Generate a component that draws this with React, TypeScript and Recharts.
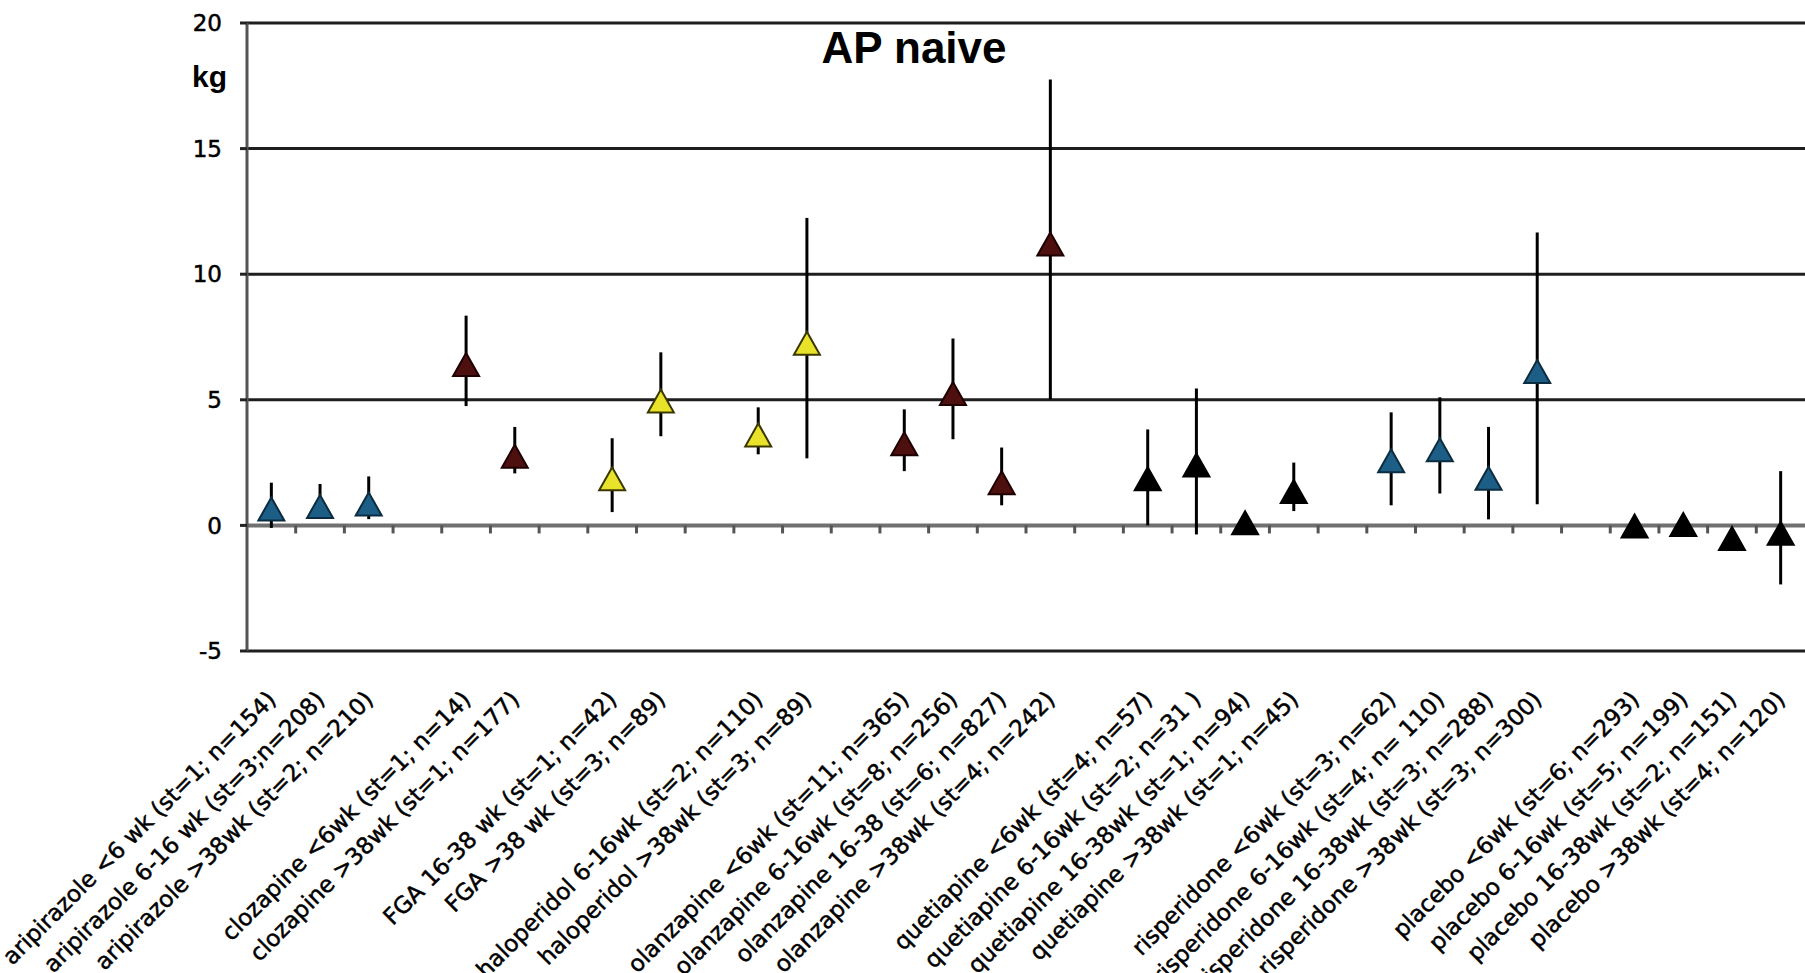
import { ScatterChart, Scatter, XAxis, YAxis, ErrorBar, ReferenceLine } from "recharts";

// one slot per category, "" = empty gap column between drug groups
const labels = [
  "aripirazole <6 wk (st=1; n=154)",
  "aripirazole 6-16 wk (st=3;n=208)",
  "aripirazole >38wk (st=2; n=210)",
  "",
  "clozapine <6wk (st=1; n=14)",
  "clozapine >38wk (st=1; n=177)",
  "",
  "FGA 16-38 wk (st=1; n=42)",
  "FGA >38 wk (st=3; n=89)",
  "",
  "haloperidol 6-16wk (st=2; n=110)",
  "haloperidol >38wk (st=3; n=89)",
  "",
  "olanzapine <6wk (st=11; n=365)",
  "olanzapine 6-16wk (st=8; n=256)",
  "olanzapine 16-38 (st=6; n=827)",
  "olanzapine >38wk (st=4; n=242)",
  "",
  "quetiapine <6wk (st=4; n=57)",
  "quetiapine 6-16wk (st=2; n=31 )",
  "quetiapine 16-38wk (st=1; n=94)",
  "quetiapine >38wk (st=1; n=45)",
  "",
  "risperidone <6wk (st=3; n=62)",
  "risperidone 6-16wk (st=4; n= 110)",
  "risperidone 16-38wk (st=3; n=288)",
  "risperidone >38wk (st=3; n=300)",
  "",
  "placebo <6wk (st=6; n=293)",
  "placebo 6-16wk (st=5; n=199)",
  "placebo 16-38wk (st=2; n=151)",
  "placebo >38wk (st=4; n=120)",
];

// mean weight change (kg)
const means = [
  0.5, 0.6, 0.7, null,
  6.25, 2.6, null,
  1.7, 4.8, null,
  3.45, 7.1, null,
  3.1, 5.1, 1.55, 11.05, null,
  1.7, 2.25, -0.05, 1.2, null,
  2.42, 2.86, 1.72, 5.97, null,
  -0.18, -0.12, -0.67, -0.47,
];

const lows = [
  -0.1, 0.3, 0.25, null,
  4.75, 2.07, null,
  0.53, 3.55, null,
  2.83, 2.67, null,
  2.16, 3.43, 0.8, 5.02, null,
  0.0, -0.36, -0.05, 0.57, null,
  0.8, 1.27, 0.24, 0.84, null,
  -0.18, -0.12, -0.67, -2.35,
];

const highs = [
  1.7, 1.65, 1.95, null,
  8.35, 3.92, null,
  3.47, 6.89, null,
  4.7, 12.24, null,
  4.62, 7.44, 3.1, 17.75, null,
  3.82, 5.45, -0.05, 2.5, null,
  4.5, 5.1, 3.92, 11.66, null,
  -0.18, -0.12, -0.67, 2.16,
];

// which marker colour each slot uses
const groups = [
  "blue", "blue", "blue", "",
  "red", "red", "",
  "yellow", "yellow", "",
  "yellow", "yellow", "",
  "red", "red", "red", "red", "",
  "black", "black", "black", "black", "",
  "blue", "blue", "blue", "blue", "",
  "black", "black", "black", "black",
];

const yTicks = [-5, 0, 5, 10, 15, 20];
const gridValues = [20, 15, 10, 5, -5];

const seriesStyles = [
  { key: "blue", fill: "#1d5e86", stroke: "#0c2c40" },
  { key: "red", fill: "#4e0f0f", stroke: "#1e0000" },
  { key: "yellow", fill: "#e9e22a", stroke: "#3a3800" },
  { key: "black", fill: "#000000", stroke: "#000000" },
];

const points = labels
  .map((label, i) => ({
    x: i,
    y: means[i],
    err: means[i] === null ? [0, 0] : [means[i]! - lows[i]!, highs[i]! - means[i]!],
    group: groups[i],
    label,
  }))
  .filter((p) => p.y !== null);

const labelTicks = labels.map((l, i) => (l ? i : -1)).filter((i) => i >= 0);
// small tick marks on the zero line, between every slot
const slotEdges = labels.slice(1).map((_, i) => i + 0.5);

const font = "'DejaVu Sans', Verdana, sans-serif";

function CategoryTick(props: any) {
  const { x, y, payload } = props;
  return (
    <g transform={`translate(${x + 6},${y + 50})`}>
      <text
        transform="rotate(-45)"
        textAnchor="end"
        fontSize={23}
        fontFamily={font}
        fill="#000"
        stroke="#000"
        strokeWidth={0.5}
      >
        {labels[payload.value]}
      </text>
    </g>
  );
}

// triangle marker, centred on its centroid
function Triangle(props: any) {
  const { cx, cy, fill, stroke } = props;
  const w = 26;
  const h = 23;
  const top = cy - (2 * h) / 3;
  const bottom = cy + h / 3;
  return (
    <polygon
      points={`${cx},${top} ${cx - w / 2},${bottom} ${cx + w / 2},${bottom}`}
      fill={fill}
      stroke={stroke}
      strokeWidth={2}
      strokeLinejoin="miter"
    />
  );
}

export default function App() {
  return (
    <div style={{ position: "absolute", left: 0, top: 0, width: 1805, height: 973, background: "#fff", overflow: "hidden" }}>
      <ScatterChart width={1805} height={973} margin={{ top: 23, right: 0, left: 0, bottom: 0 }}>
        <XAxis
          dataKey="x"
          type="number"
          domain={[-0.5, 31.5]}
          ticks={labelTicks}
          interval={0}
          axisLine={false}
          tickLine={false}
          tickSize={0}
          tickMargin={0}
          height={322}
          tick={<CategoryTick />}
        />
        <YAxis
          dataKey="y"
          type="number"
          domain={[-5, 20]}
          ticks={yTicks}
          interval={0}
          width={247}
          axisLine={{ stroke: "#555", strokeWidth: 3 }}
          tickLine={{ stroke: "#222", strokeWidth: 3 }}
          tickSize={7}
          tickMargin={18}
          tick={{ fontSize: 23, fill: "#000", fontFamily: font, stroke: "#000", strokeWidth: 0.5 }}
        />
        {gridValues.map((v) => (
          <ReferenceLine key={v} y={v} stroke="#1e1e1e" strokeWidth={3} />
        ))}
        <ReferenceLine y={0} stroke="#707070" strokeWidth={4} />
        {slotEdges.map((e) => (
          <ReferenceLine
            key={e}
            segment={[{ x: e, y: 0 }, { x: e, y: -0.32 }]}
            stroke="#555"
            strokeWidth={3}
          />
        ))}
        {seriesStyles.map((s) => (
          <Scatter
            key={s.key}
            data={points.filter((p) => p.group === s.key)}
            shape={<Triangle />}
            fill={s.fill}
            stroke={s.stroke}
            isAnimationActive={false}
          >
            <ErrorBar dataKey="err" direction="y" width={0} stroke="#000" strokeWidth={3} />
          </Scatter>
        ))}
      </ScatterChart>
      <svg width={1805} height={973} style={{ position: "absolute", left: 0, top: 0, pointerEvents: "none" }}>
        <text x={914} y={63} textAnchor="middle" fontSize={44} fontWeight="bold" fontFamily="'Liberation Sans', Arial, sans-serif" fill="#000">
          AP naive
        </text>
        <text x={192} y={87} fontSize={30} fontWeight="bold" fontFamily="'Liberation Sans', Arial, sans-serif" fill="#000">
          kg
        </text>
      </svg>
    </div>
  );
}
